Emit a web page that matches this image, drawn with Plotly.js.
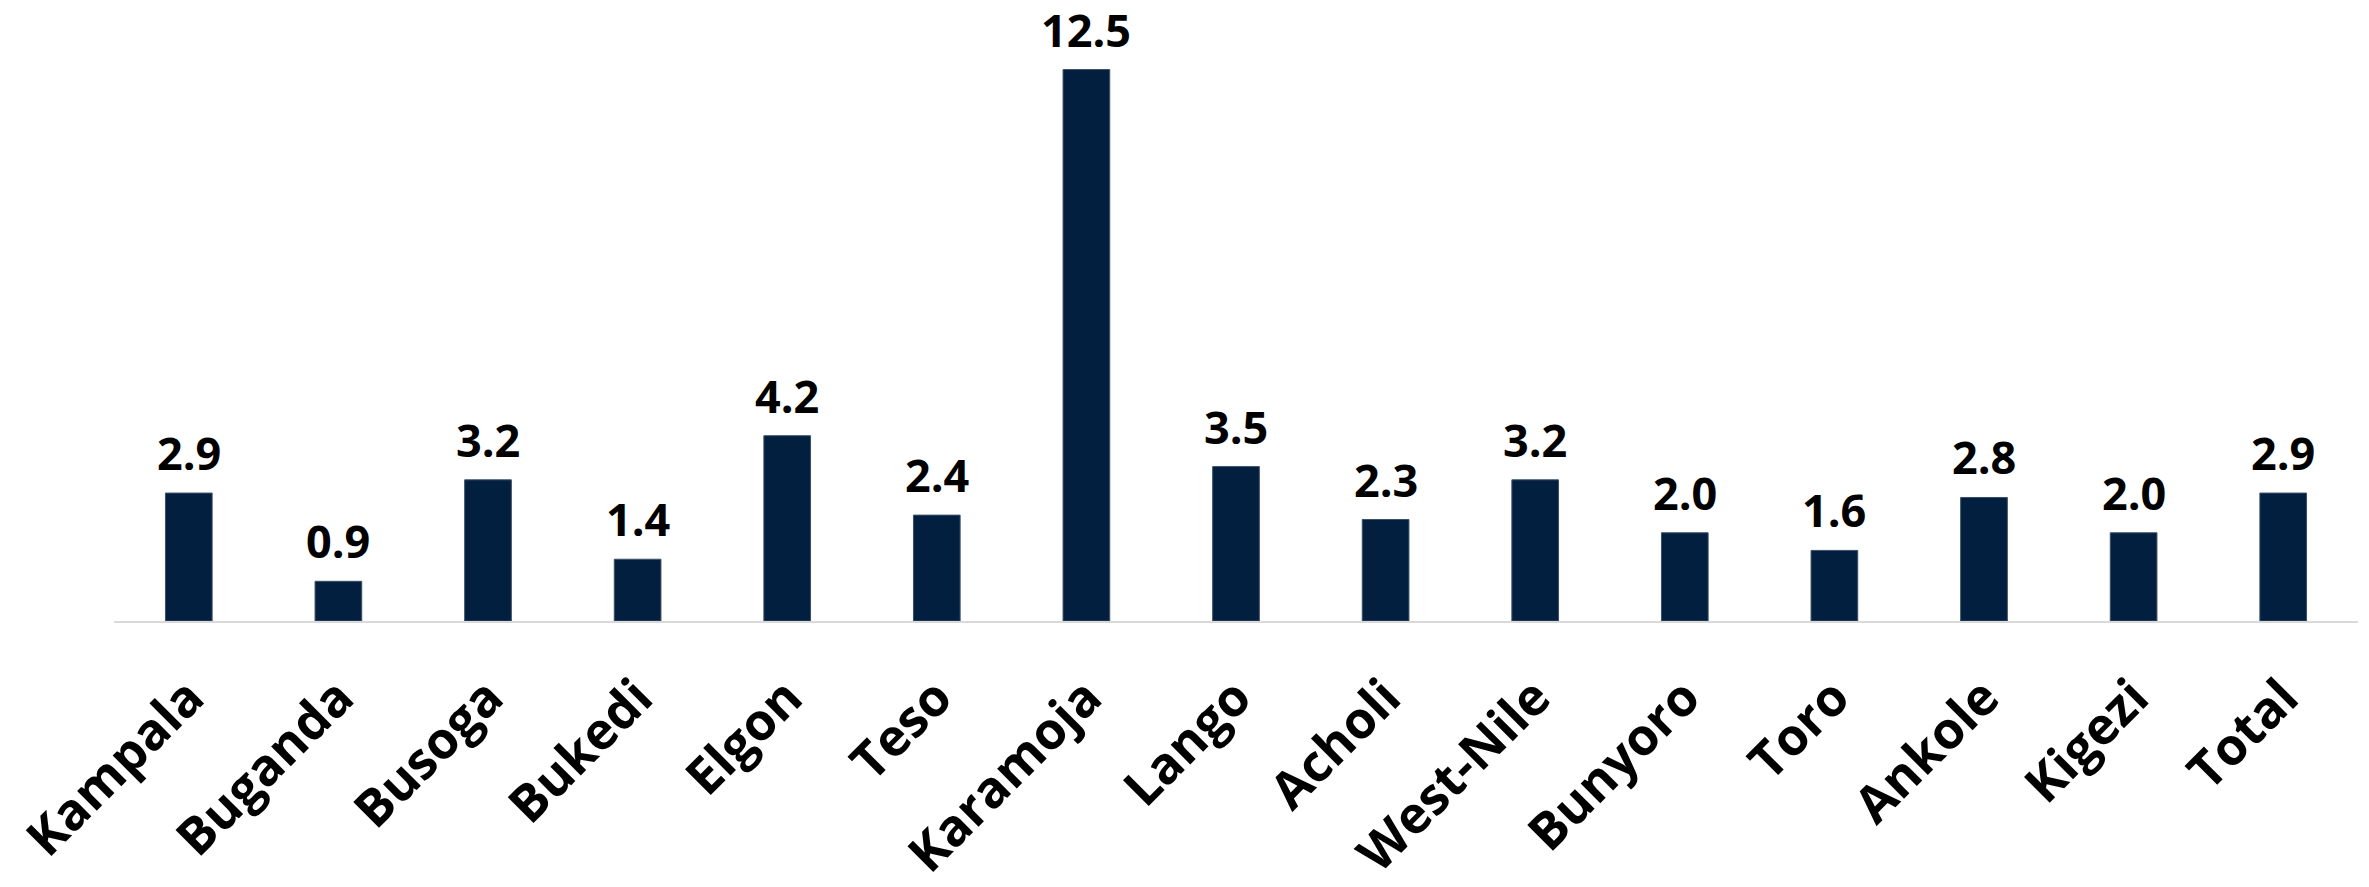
<!DOCTYPE html>
<html>
<head>
<meta charset="utf-8">
<script src="https://cdn.plot.ly/plotly-3.0.1.min.js"></script>
<style>
  html, body { margin: 0; padding: 0; background: #ffffff; }
  #chart { width: 2369px; height: 887px; }
</style>
</head>
<body>
<div id="chart"></div>
<script>
// Regions and their values
const regions = ["Kampala", "Buganda", "Busoga", "Bukedi", "Elgon", "Teso", "Karamoja",
                 "Lango", "Acholi", "West-Nile", "Bunyoro", "Toro", "Ankole", "Kigezi", "Total"];
const values = [2.9, 0.9, 3.2, 1.4, 4.2, 2.4, 12.5, 3.5, 2.3, 3.2, 2.0, 1.6, 2.8, 2.0, 2.9];

const barColor = "#031f3f";
const fontFamily = "'Open Sans', Lato, sans-serif";

const trace = {
  type: "bar",
  x: regions,
  y: values,
  marker: { color: barColor, line: { color: "#3d5068", width: 1 } },
  hoverinfo: "x+y"
};

// Value labels above each bar
const labels = regions.map((r, i) => ({
  x: r,
  y: values[i],
  xref: "x",
  yref: "y",
  text: values[i].toFixed(1),
  showarrow: false,
  yanchor: "bottom",
  yshift: 8,
  font: { family: fontFamily, size: 45, weight: 700, color: "#000000" }
}));

const layout = {
  width: 2369,
  height: 887,
  margin: { l: 114, r: 11, t: 10, b: 266 },
  paper_bgcolor: "#ffffff",
  plot_bgcolor: "#ffffff",
  bargap: 0.688,
  showlegend: false,
  xaxis: {
    type: "category",
    showline: true,
    linecolor: "#d9d9d9",
    linewidth: 2,
    showgrid: false,
    ticks: "",
    tickangle: -45,
    ticklabelstandoff: 24,
    tickfont: { family: fontFamily, size: 51, weight: 700, color: "#000000" }
  },
  yaxis: {
    range: [0, 13.85],
    visible: false,
    showgrid: false,
    zeroline: false
  },
  annotations: labels
};

Plotly.newPlot("chart", [trace], layout, { displayModeBar: false, staticPlot: true });
</script>
</body>
</html>
